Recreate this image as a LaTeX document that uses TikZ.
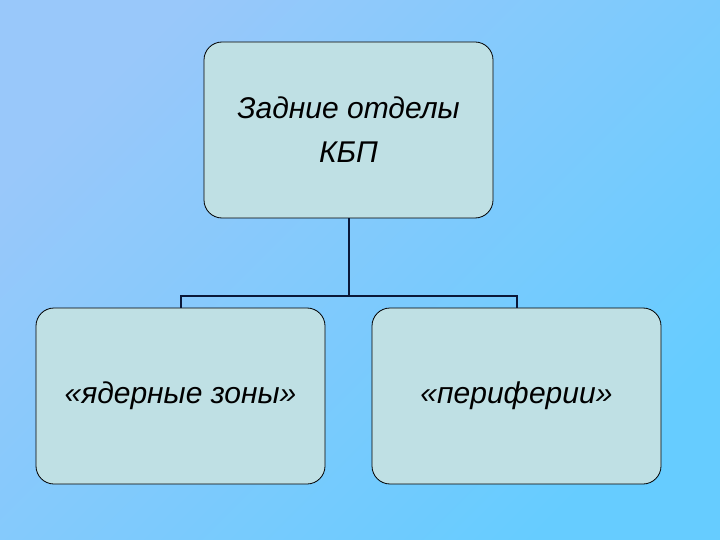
\documentclass[tikz,border=0pt]{standalone}
\usepackage{fontspec}
\setmainfont{Liberation Sans}
\begin{document}
\begin{tikzpicture}[x=1pt,y=-1pt,
  box/.style={draw=black,line width=0.8pt,fill=boxfill,rounded corners=18pt,inner sep=0pt,font=\itshape\fontsize{30}{44}\selectfont,align=center},
  conn/.style={draw=linecol,line width=2pt}]
\definecolor{boxfill}{HTML}{BFE0E4}
\definecolor{linecol}{HTML}{0A1838}
\definecolor{bgA}{HTML}{99C8FA}
\definecolor{bgB}{HTML}{66CCFF}
\shade[top color=bgA,bottom color=bgB,shading angle=45] (0,0) rectangle (720,540);
\useasboundingbox (0,0) rectangle (720,540);
\node[box,minimum width=289pt,minimum height=176pt] (top) at (348.5,130) {Задние отделы\\КБП};
\node[box,minimum width=289pt,minimum height=176pt] (l) at (180.5,396) {«ядерные зоны»};
\node[box,minimum width=289pt,minimum height=176pt] (r) at (516.5,396) {«периферии»};
\coordinate (m) at (348.5,296);
\draw[conn] (top.south) -- (m);
\draw[conn] (l.north) -- (l.north |- m) -- (r.north |- m) -- (r.north);
\end{tikzpicture}
\end{document}
